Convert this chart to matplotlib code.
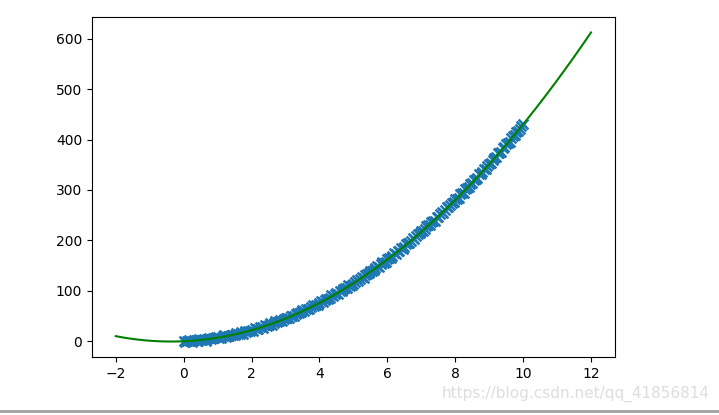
import numpy as np
from matplotlib import pyplot as plt

# scatter samples (x from 0 to 10, step 0.05)
x_data = [round(0.05 * i, 2) for i in range(201)]
y_data = [
    0.8, -1.1, 0.5, 2.4, 0.2, -1.1, 2.4, 1.8, 0.1, 4.6,
    2.4, 2.0, 4.7, 1.0, 4.8, 5.7, 3.6, 5.9, 5.6, 8.5,
    8.6, 7.2, 5.9, 9.6, 11.7, 9.0, 10.8, 9.5, 13.3, 12.1,
    12.0, 16.5, 15.4, 15.0, 17.7, 15.1, 20.1, 19.0, 20.7, 19.9,
    22.3, 21.1, 26.0, 24.4, 24.9, 28.4, 29.0, 27.1, 32.0, 31.1,
    31.8, 35.3, 33.2, 36.2, 39.8, 37.6, 39.6, 42.3, 40.0, 44.5,
    46.2, 45.8, 46.4, 51.1, 50.7, 49.8, 54.2, 56.4, 55.4, 57.6,
    61.6, 59.4, 63.1, 64.1, 63.4, 68.6, 71.1, 70.0, 72.7, 72.9,
    75.8, 79.6, 77.5, 81.9, 84.5, 83.9, 86.4, 90.9, 89.0, 93.0,
    95.5, 94.2, 99.3, 99.7, 104.1, 104.7, 104.8, 111.0, 110.3, 111.9,
    113.7, 117.8, 121.3, 120.0, 123.5, 127.7, 126.2, 131.3, 133.9, 134.6,
    139.8, 139.1, 141.0, 144.9, 148.5, 147.1, 152.5, 156.3, 156.0, 157.8,
    162.4, 165.8, 165.2, 169.5, 174.6, 173.6, 178.5, 179.7, 184.5, 183.6,
    187.6, 193.3, 194.3, 195.2, 199.3, 203.8, 203.4, 209.1, 212.9, 214.0,
    218.5, 218.8, 222.2, 228.3, 229.6, 230.2, 236.1, 237.8, 239.1, 245.6,
    247.0, 251.6, 255.5, 254.8, 260.4, 265.6, 265.3, 269.8, 274.0, 275.6,
    282.0, 283.0, 284.9, 291.2, 293.9, 294.7, 302.1, 304.4, 306.4, 311.8,
    312.9, 319.5, 321.8, 324.3, 331.1, 331.2, 336.1, 341.6, 341.1, 347.9,
    351.9, 352.8, 359.7, 362.7, 365.1, 372.3, 373.2, 376.2, 383.5, 385.4,
    390.8, 392.9, 395.2, 402.1, 407.1, 408.3, 415.7, 417.2, 420.4, 426.4,
    430.8,
]
fit_range = (-2, 12)

fig = plt.figure(figsize=(7.19, 4.15), dpi=100)
ax = fig.add_axes([0.128, 0.139, 0.727, 0.82])

ax.scatter(x_data, y_data, marker='x', color='#1f77b4', s=50, linewidths=1.8)

# quadratic fit of the scatter, drawn over the wider range
coef = np.polyfit(x_data, y_data, 2)
x_fit = np.linspace(fit_range[0], fit_range[1], 200)
ax.plot(x_fit, np.polyval(coef, x_fit), color='green')

ax.set_xticks(range(-2, 13, 2))
ax.set_yticks(range(0, 601, 100))

# screenshot leftovers: watermark and grey rule at the bottom
fig.text(0.987, 0.032, 'https://blog.csdn.net/qq_41856814', ha='right', va='bottom',
         color='#dedede', fontsize=11)
fig.add_artist(plt.Line2D([0, 1], [0.01, 0.01], color='#a0a0a0', lw=2,
                          transform=fig.transFigure))

fig.savefig('out.png', dpi=100)
